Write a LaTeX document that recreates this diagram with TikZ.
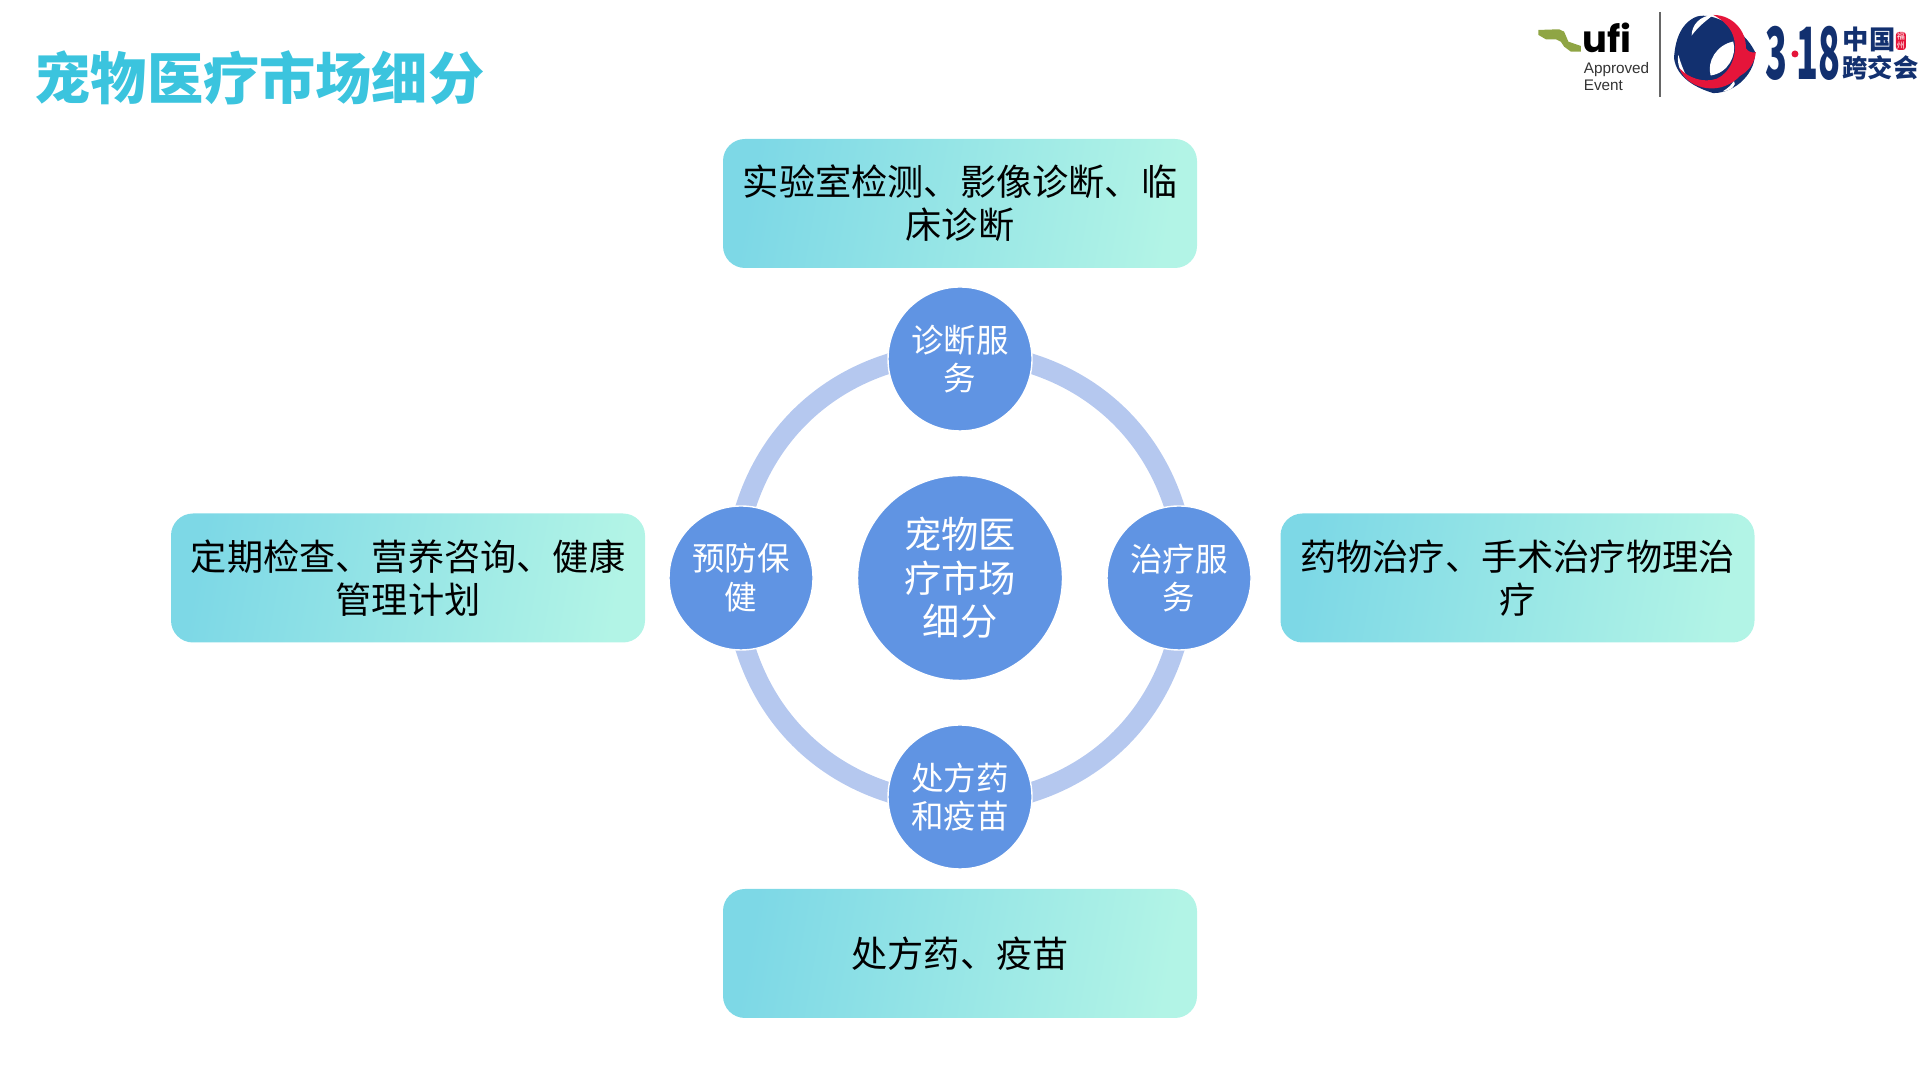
\documentclass[tikz,border=0pt]{standalone}
\usepackage{fontspec}
\setmainfont{Noto Sans CJK SC}
\newfontfamily\titlefont{Noto Sans CJK SC Black}
\newfontfamily\latinfont{Liberation Sans}
\newfontfamily\ufifont{Poppins}
\usetikzlibrary{positioning,backgrounds}
\definecolor{titlecyan}{HTML}{3BC4DE}
\definecolor{nodeblue}{HTML}{6094E3}
\definecolor{ringblue}{HTML}{B5C8EF}
\definecolor{boxleft}{HTML}{7DD8E6}
\definecolor{boxright}{HTML}{B2F4E6}
\definecolor{logonavy}{HTML}{12306F}
\definecolor{logored}{HTML}{E5153A}
\definecolor{logogreen}{HTML}{8FA544}
\tikzset{
    infobox/.style={rounded corners=0.22cm, minimum width=4.74cm, minimum height=1.29cm,
        inner sep=0pt, align=center, left color=boxleft, right color=boxright, shading angle=80,
        font=\fontsize{10.3}{12.3}\selectfont, text=black},
    sidecircle/.style={circle, fill=nodeblue, draw=white, line width=0.4pt, minimum size=1.44cm,
        inner sep=0pt, align=center, text=white, font=\fontsize{9.25}{11}\selectfont},
    corecircle/.style={circle, fill=nodeblue, draw=white, line width=0.4pt, minimum size=2.05cm,
        inner sep=0pt, align=center, text=white, font=\fontsize{10.6}{12.3}\selectfont},
    ringline/.style={ringblue, line width=0.2cm, line cap=rect},
    logotext/.style={inner sep=0pt, text=logonavy, font=\bfseries}
}
\begin{document}
\begin{tikzpicture}
    \useasboundingbox (0,0) rectangle (19.2,10.8);

    % Title
    \node[inner sep=0pt, text=titlecyan, font=\titlefont\fontsize{16}{18}\selectfont] (title) at (2.595,10.02) {宠物医疗市场细分};

    % Circles
    \node[corecircle] (core) at (9.6,5.02) {宠物医\\疗市场\\细分};
    \node[sidecircle] (diag) at (9.6,7.21) {诊断服\\务};
    \node[sidecircle] (treat) at (11.79,5.02) {治疗服\\务};
    \node[sidecircle] (drug) at (9.6,2.83) {处方药\\和疫苗};
    \node[sidecircle] (care) at (7.41,5.02) {预防保\\健};

    % Ring
    \begin{scope}[on background layer]
        \foreach \a/\s/\b/\e/\o/\i in {diag/-4/treat/94/-18/108, treat/-94/drug/4/-108/18,
                drug/176/care/-86/162/-72, care/86/diag/184/72/-162}
            \draw[ringline] (\a.\s) to[out=\o, in=\i, looseness=0.92] (\b.\e);
    \end{scope}

    % Boxes
    \node[infobox] (diagbox) at (9.6,8.765) {实验室检测、影像诊断、临\\床诊断};
    \node[infobox] (treatbox) at (15.175,5.02) {药物治疗、手术治疗物理治\\疗};
    \node[infobox] (drugbox) at (9.6,1.265) {处方药、疫苗};
    \node[infobox] (carebox) at (4.08,5.02) {定期检查、营养咨询、健康\\管理计划};

    % UFI logo
    \begin{scope}[x=0.01cm, y=-0.01cm, yshift=10.8cm]
        \fill[logogreen] (1539.3,30) -- (1560,29.3) -- (1565,31.7) -- (1569.3,41.7) -- (1581.7,46) -- (1581.7,51.7)
            -- (1571.7,51.7) -- (1565,46.7) -- (1561.7,41.7) -- (1556.7,39.3) -- (1546.7,39.3) -- (1539.3,35) -- cycle;
        \node[anchor=west, inner sep=0pt, text=black, font=\ufifont\fontsize{10.5}{12}\selectfont\bfseries] (ufi) at (1583,38) {ufi};
        \node[anchor=north west, inner sep=0pt, align=left, text=black!80, font=\latinfont\fontsize{4.35}{4.8}\selectfont] (approved) at (1584,62) {Approved\\Event};
        \draw[black!60, line width=0.4pt] (1661,12) -- (1661,97);
    \end{scope}

    % Globe
    \begin{scope}[x=0.003333cm, y=-0.003333cm, shift={(1667*3,5*3)}, yshift=10.8cm]
        \fill[logonavy] (100,35) .. controls (150,20) and (240,70) .. (275,140)
            .. controls (280,200) and (220,265) .. (150,265)
            .. controls (100,250) and (40,220) .. (32,160)
            .. controls (35,110) and (50,55) .. (100,35) -- cycle;
        \fill[white] (85,92) .. controls (85,60) and (110,32) .. (150,30)
            .. controls (125,50) and (105,65) .. (85,92) -- cycle;
        \fill[white] (142,212) .. controls (130,170) and (160,120) .. (210,110)
            .. controls (222,150) and (195,205) .. (142,212) -- cycle;
        \fill[white] (45,150) .. controls (40,175) and (50,205) .. (72,220)
            .. controls (60,195) and (52,175) .. (45,150) -- cycle;
        \fill[white] (178,260) .. controls (195,250) and (205,240) .. (212,228)
            .. controls (222,240) and (205,258) .. (178,260) -- cycle;
        \fill[logored] (150,30) .. controls (210,30) and (250,80) .. (248,130)
            .. controls (255,140) and (265,145) .. (278,142)
            .. controls (275,175) and (255,200) .. (232,212)
            .. controls (205,240) and (170,255) .. (130,250)
            .. controls (95,245) and (60,225) .. (48,190)
            .. controls (75,220) and (120,235) .. (160,222)
            .. controls (200,205) and (225,150) .. (212,100)
            .. controls (205,70) and (180,45) .. (150,30) -- cycle;
    \end{scope}

    % 318 logo
    \begin{scope}[x=0.01cm, y=-0.01cm, yshift=10.8cm]
        \node[logotext, xscale=0.5, transform shape, font=\fontsize{20.5}{20}\selectfont\bfseries] (three) at (1777.5,53.5) {3};
        \fill[logored] (1796,54) circle (3.5);
        \node[logotext, xscale=0.5, transform shape, font=\fontsize{20.5}{20}\selectfont\bfseries] (eighteen) at (1819.5,53.5) {18};
        \node[logotext, anchor=west, font=\fontsize{7.5}{8}\selectfont\bfseries] (china) at (1843,39.5) {中国};
        \node[logotext, anchor=west, font=\fontsize{7.2}{8}\selectfont\bfseries] (fair) at (1843,68) {跨交会};
        \node[rounded corners=0.03cm, fill=logored, text=white, inner sep=0pt, minimum width=0.1cm, minimum height=0.18cm, align=center, font=\fontsize{2.3}{2.5}\selectfont] (seal) at (1902,41) {福\\州};
    \end{scope}
\end{tikzpicture}
\end{document}
